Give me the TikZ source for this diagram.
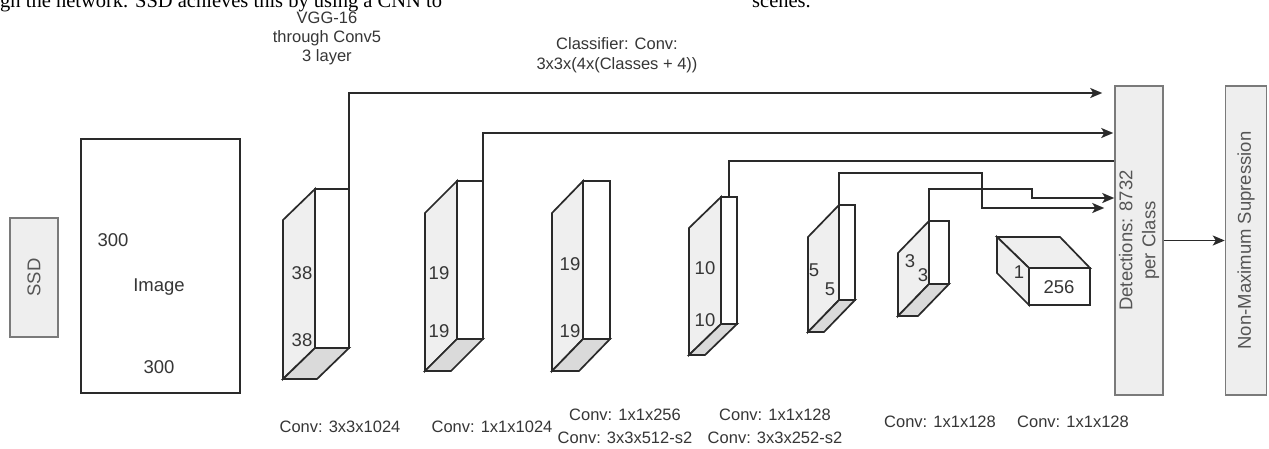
\documentclass[tikz,border=0pt]{standalone}
\usepackage{fontspec}
\setmainfont{Liberation Sans}
\newfontfamily\docserif{Liberation Serif}
\usetikzlibrary{arrows.meta}
\definecolor{ln}{HTML}{2A2A2A}
\definecolor{tx}{HTML}{363636}
\definecolor{lighttx}{HTML}{555555}
\definecolor{boxfill}{HTML}{EEEEEE}
\definecolor{boxline}{HTML}{7A7A7A}
\definecolor{face}{HTML}{EFEFEF}
\definecolor{bottomface}{HTML}{DADADA}

\tikzset{
  lbl/.style={text=tx, font=\fontsize{16.5}{20}\selectfont, inner sep=0pt, align=center},
  dimlbl/.style={text=tx, font=\fontsize{18.5}{21}\selectfont, inner sep=0pt},
  graybox/.style={draw=boxline, fill=boxfill, line width=1.5pt, inner sep=0pt},
  boxtext/.style={text=lighttx, font=\fontsize{18.5}{23}\selectfont, inner sep=0pt, align=center, rotate=90},
  edge/.style={draw=ln, line width=1.7pt, line join=miter},
  conn/.style={draw=ln, line width=1.7pt},
  arr/.style={conn, -{Stealth[length=12pt,width=10pt,inset=3pt]}},
}

% #1 name, #2 left x, #3 top y, #4 dx, #5 dy, #6 front width, #7 height
\newcommand{\convslab}[7]{%
  \coordinate (#1-A) at (#2,#3+#5);
  \coordinate (#1-B) at (#2+#4,#3);
  \coordinate (#1-R) at (#2+#4+#6,#3);
  \coordinate (#1-RB) at (#2+#4+#6,#3+#7);
  \coordinate (#1-BB) at (#2+#4,#3+#7);
  \coordinate (#1-F) at (#2,#3+#7+#5);
  \coordinate (#1-FR) at (#2+#6,#3+#7+#5);
  \filldraw[edge, fill=face] (#1-A) -- (#1-B) -- (#1-BB) -- (#1-F) -- cycle;
  \filldraw[edge, fill=white] (#1-B) -- (#1-R) -- (#1-RB) -- (#1-BB) -- cycle;
  \filldraw[edge, fill=bottomface] (#1-F) -- (#1-FR) -- (#1-RB) -- (#1-BB) -- cycle;
}

\begin{document}
\begin{tikzpicture}[x=1pt,y=-1pt]
\clip (0,0) rectangle (1269,448);
\fill[white] (0,0) rectangle (1269,448);

% cropped document text
\node[anchor=base west, inner sep=0pt, font=\docserif\fontsize{20.5}{24}\selectfont] (doc1) at (0,7) {gh the network. SSD achieves this by using a CNN to};
\node[anchor=base west, inner sep=0pt, font=\docserif\fontsize{20.5}{24}\selectfont] (doc2) at (752,7) {scenes.};

% left boxes
\node[graybox, minimum width=48pt, minimum height=119pt] (ssd) at (34,277.5) {};
\node[boxtext] (ssdt) at (ssd) {SSD};
\draw[edge, line width=1.8pt] (81,139) rectangle (240,393);
\node[dimlbl] (i300a) at (113,240) {300};
\node[dimlbl] (imgt) at (159,287) {Image};
\node[dimlbl] (i300b) at (159,367) {300};

% detection / NMS boxes
\node[graybox, minimum width=48pt, minimum height=309pt] (det) at (1139,240.5) {};
\node[boxtext] (dett) at (det) {Detections: 8732\\per Class};
\node[graybox, minimum width=41pt, minimum height=309pt] (nms) at (1246,240.5) {};
\node[boxtext] (nmst) at (nms) {Non-Maximum Supression};

% slabs
\convslab{s1}{283}{189}{32}{31}{34}{159}
\convslab{s2}{425}{181}{32}{32}{26}{158}
\convslab{s3}{552}{181}{31}{32}{27}{158}
\convslab{s4}{689}{197}{32}{31}{16}{127}
\convslab{s5}{808}{205}{31}{32}{16}{95}
\convslab{s6}{898}{221}{31}{32}{20}{63}

% last block 1 x 256
\coordinate (b7-a) at (997,237);
\coordinate (b7-b) at (1060,237);
\coordinate (b7-c) at (1090,268);
\coordinate (b7-d) at (1029,268);
\coordinate (b7-e) at (1029,305);
\coordinate (b7-f) at (1090,305);
\coordinate (b7-g) at (997,273);
\filldraw[edge, fill=face] (b7-a) -- (b7-b) -- (b7-c) -- (b7-d) -- cycle;
\filldraw[edge, fill=face] (b7-a) -- (b7-d) -- (b7-e) -- (b7-g) -- cycle;
\filldraw[edge, fill=white] (b7-d) -- (b7-c) -- (b7-f) -- (b7-e) -- cycle;

% dimension labels
\node[dimlbl] (d38a) at (302,273) {38};
\node[dimlbl] (d38b) at (302,340) {38};
\node[dimlbl] (d19a) at (439,273) {19};
\node[dimlbl] (d19b) at (439,331) {19};
\node[dimlbl] (d19c) at (570,264) {19};
\node[dimlbl] (d19d) at (570,331) {19};
\node[dimlbl] (d10a) at (705,268) {10};
\node[dimlbl] (d10b) at (705,320) {10};
\node[dimlbl] (d5a) at (814,270) {5};
\node[dimlbl] (d5b) at (830,289) {5};
\node[dimlbl] (d3a) at (910,261) {3};
\node[dimlbl] (d3b) at (923,275) {3};
\node[dimlbl] (d1) at (1019,272) {1};
\node[dimlbl] (d256) at (1059,287) {256};

% top labels
\node[lbl, font=\fontsize{16.5}{19}\selectfont] (vgg) at (327,38.5) {VGG-16\\through Conv5\\3 layer};
\node[lbl] (cls) at (617,55) {Classifier: Conv:\\3x3x(4x(Classes + 4))};

% bottom labels
\node[lbl] (c1) at (340,427) {Conv: 3x3x1024};
\node[lbl] (c2) at (492,427) {Conv: 1x1x1024};
\node[lbl, font=\fontsize{16.5}{23}\selectfont] (c3) at (625,426.5) {Conv: 1x1x256\\Conv: 3x3x512-s2};
\node[lbl, font=\fontsize{16.5}{23}\selectfont] (c4) at (775,426.5) {Conv: 1x1x128\\Conv: 3x3x252-s2};
\node[lbl] (c5) at (940,422) {Conv: 1x1x128};
\node[lbl] (c6) at (1073,422) {Conv: 1x1x128};

% connectors
\coordinate (y93) at (0,93);
\coordinate (y133) at (0,133);
\coordinate (y161) at (0,161);
\coordinate (y198) at (0,198);
\coordinate (y208) at (0,208);
\coordinate (s4top) at (729,197);
\coordinate (k5) at (982,173);
\coordinate (k6) at (1032,189);
\draw[arr, shorten >=12pt] (s1-R) |- (det.west |- y93);
\draw[arr, shorten >=1pt] (s2-R) |- (det.west |- y133);
\draw[conn] (s4top) |- (det.west |- y161);
\draw[arr, shorten >=10pt] (s5-B) |- (k5) |- (det.west |- y208);
\draw[arr] (s6-B) |- (k6) |- (det.west |- y198);
\draw[arr] (det) -- (nms);
\end{tikzpicture}
\end{document}
